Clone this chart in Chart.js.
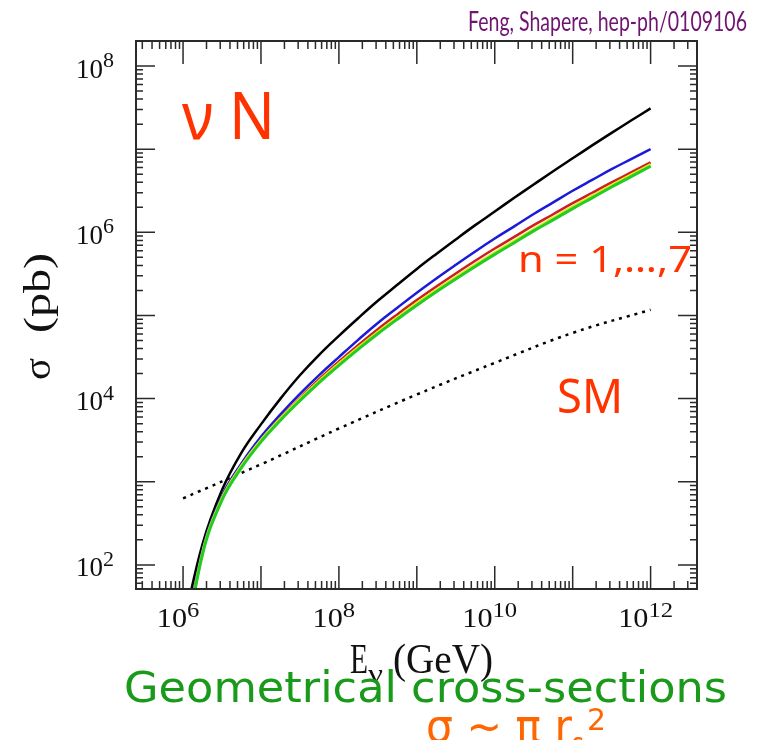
<!DOCTYPE html>
<html>
<head>
<meta charset="utf-8">
<script src="https://cdn.jsdelivr.net/npm/chart.js@4/dist/chart.umd.min.js"></script>
<style>
  html, body { margin: 0; padding: 0; background: #fff; }
  #wrap { width: 765px; height: 740px; }
</style>
</head>
<body>
<div id="wrap"><canvas id="chart" width="765" height="740"></canvas></div>
<script>
// neutrino energy (GeV), quarter-decade steps, shared by the black-hole curves
const energyGeV = [1e6, 1.78e6, 3.16e6, 5.62e6,
                   1e7, 1.78e7, 3.16e7, 5.62e7,
                   1e8, 1.78e8, 3.16e8, 5.62e8,
                   1e9, 1.78e9, 3.16e9, 5.62e9,
                   1e10, 1.78e10, 3.16e10, 5.62e10,
                   1e11, 1.78e11, 3.16e11, 5.62e11, 1e12];
// cross-sections in pb
const sigmaBlack  = [17.8, 178, 794, 2240,
                     4900, 1.0e4, 1.91e4, 3.39e4,
                     5.69e4, 9.33e4, 1.50e5, 2.34e5,
                     3.63e5, 5.50e5, 8.22e5, 1.22e6,
                     1.78e6, 2.60e6, 3.76e6, 5.43e6,
                     7.76e6, 1.11e7, 1.57e7, 2.21e7, 3.09e7];
const sigmaBlue   = [8.51, 151, 676, 1660,
                     3470, 6460, 1.14e4, 1.93e4,
                     3.16e4, 5.13e4, 8.13e4, 1.24e5,
                     1.88e5, 2.79e5, 4.07e5, 5.89e5,
                     8.41e5, 1.18e6, 1.66e6, 2.29e6,
                     3.16e6, 4.27e6, 5.75e6, 7.59e6, 1.0e7];
const sigmaRed    = [7.41, 141, 631, 1550,
                     3160, 5890, 1.02e4, 1.72e4,
                     2.79e4, 4.42e4, 6.84e4, 1.03e5,
                     1.53e5, 2.23e5, 3.20e5, 4.55e5,
                     6.38e5, 8.81e5, 1.22e6, 1.65e6,
                     2.24e6, 2.99e6, 3.98e6, 5.25e6, 6.92e6];
const sigmaYellow = [7.41, 141, 631, 1550,
                     3160, 5750, 9890, 1.64e4,
                     2.63e4, 4.12e4, 6.31e4, 9.44e4,
                     1.40e5, 2.02e5, 2.88e5, 4.07e5,
                     5.69e5, 7.85e5, 1.08e6, 1.48e6,
                     2.02e6, 2.72e6, 3.67e6, 4.90e6, 6.53e6];
const sigmaGreen  = [7.08, 135, 603, 1480,
                     3020, 5500, 9440, 1.57e4,
                     2.51e4, 3.94e4, 6.03e4, 9.02e4,
                     1.33e5, 1.93e5, 2.75e5, 3.89e5,
                     5.43e5, 7.50e5, 1.04e6, 1.41e6,
                     1.93e6, 2.60e6, 3.51e6, 4.68e6, 6.24e6];
// Standard Model curve
const smEnergyGeV = [1e6, 1e7, 1e8, 1e9, 1e10, 1e11, 1e12];
const sigmaSM     = [631, 1620, 4370, 1.12e4, 2.69e4, 6.17e4, 1.17e5];

const xTickPowers = [6, 8, 10, 12];
const yTickPowers = [2, 4, 6, 8];
const xRange = [2.49e5, 3.94e12];
const yRange = [51.3, 2.0e8];

function pts(xs, ys) {
    return xs.map((x, i) => ({ x: x, y: ys[i] }));
}

// draw text squeezed/stretched to a given width, left edge at x
function fitText(ctx, text, x, y, w) {
    const m = ctx.measureText(text).width;
    ctx.save();
    ctx.translate(x, y);
    ctx.scale(w / m, 1);
    ctx.textAlign = 'left';
    ctx.fillText(text, 0, 0);
    ctx.restore();
}

// "10" with a superscript exponent
function drawPow(ctx, exp, left, baseY, supY, sx) {
    ctx.save();
    ctx.translate(left, 0);
    ctx.scale(sx, 1);
    ctx.textAlign = 'left';
    ctx.textBaseline = 'alphabetic';
    ctx.font = '27px "Liberation Serif", serif';
    const w1 = ctx.measureText('10').width;
    ctx.fillText('10', 0, baseY);
    ctx.font = '22px "Liberation Serif", serif';
    ctx.fillText(String(exp), w1, supY);
    ctx.restore();
}
function powWidth(ctx, exp) {
    ctx.font = '27px "Liberation Serif", serif';
    const w1 = ctx.measureText('10').width;
    ctx.font = '22px "Liberation Serif", serif';
    return w1 + ctx.measureText(String(exp)).width;
}

function logTicks(scale, cb) {
    const lo = Math.floor(Math.log10(scale.min)), hi = Math.ceil(Math.log10(scale.max));
    for (let e = lo; e <= hi; e++) {
        for (let m = 1; m <= 9; m++) {
            const v = m * Math.pow(10, e);
            if (v < scale.min || v > scale.max) continue;
            cb(scale.getPixelForValue(v), m === 1);
        }
    }
}

const framePlugin = {
    id: 'frame',
    afterDraw(chart) {
        const ctx = chart.ctx;
        const a = chart.chartArea;
        const xs = chart.scales.x, ys = chart.scales.y;
        ctx.save();

        // ticks on all four sides, pointing inwards
        ctx.strokeStyle = '#2a2a2a';
        ctx.lineWidth = 1.5;
        ctx.beginPath();
        logTicks(xs, (px, major) => {
            const len = major ? 23 : 8;
            ctx.moveTo(px, a.bottom); ctx.lineTo(px, a.bottom - len);
            ctx.moveTo(px, a.top); ctx.lineTo(px, a.top + len);
        });
        logTicks(ys, (py, major) => {
            const len = major ? 19 : 7;
            ctx.moveTo(a.left, py); ctx.lineTo(a.left + len, py);
            ctx.moveTo(a.right, py); ctx.lineTo(a.right - len, py);
        });
        ctx.stroke();

        // frame
        ctx.lineWidth = 2;
        ctx.strokeRect(a.left, a.top, a.right - a.left, a.bottom - a.top);

        // tick labels
        ctx.fillStyle = '#111';
        xTickPowers.forEach(p => {
            const px = xs.getPixelForValue(Math.pow(10, p));
            const w = powWidth(ctx, p) * 1.12;
            drawPow(ctx, p, px - 5 - w / 2, 627, 617, 1.12);
        });
        yTickPowers.forEach(p => {
            const py = ys.getPixelForValue(Math.pow(10, p));
            const w = powWidth(ctx, p);
            drawPow(ctx, p, 114 - w, py + 11.5, py + 1, 1);
        });

        // axis titles
        ctx.font = '42px "Liberation Serif", serif';
        ctx.textBaseline = 'alphabetic';
        fitText(ctx, 'E', 350, 673, 18);
        ctx.font = '28px "Liberation Serif", serif';
        fitText(ctx, 'ν', 368, 683, 15);
        ctx.font = '42px "Liberation Serif", serif';
        fitText(ctx, '(GeV)', 393, 673, 100);

        ctx.save();
        ctx.translate(50, 380);
        ctx.rotate(-Math.PI / 2);
        ctx.font = '38px "Liberation Serif", serif';
        fitText(ctx, 'σ', 0, 0, 22);
        fitText(ctx, '(pb)', 47, 0, 80);
        ctx.restore();

        // annotations
        ctx.fillStyle = '#701470';
        ctx.font = '27px Lato, "Noto Sans", sans-serif';
        fitText(ctx, 'Feng, Shapere, hep-ph/0109106', 468, 31, 279);

        ctx.fillStyle = '#ff3300';
        ctx.font = '66px "Noto Sans", sans-serif';
        fitText(ctx, 'ν N', 182, 139, 93);
        ctx.font = '37px "Noto Sans", sans-serif';
        fitText(ctx, 'n = 1,…,7', 518, 272, 174);
        ctx.font = '48px "Noto Sans", sans-serif';
        fitText(ctx, 'SM', 557, 413, 66);

        ctx.fillStyle = '#1a9a1a';
        ctx.font = '42px "DejaVu Sans", sans-serif';
        fitText(ctx, 'Geometrical cross-sections', 124, 702, 603);

        ctx.fillStyle = '#ff6600';
        ctx.font = '46px "DejaVu Sans", sans-serif';
        fitText(ctx, 'σ ~ π r', 426, 742, 146);
        ctx.font = '30px "DejaVu Sans", sans-serif';
        fitText(ctx, 's', 572, 754, 12);
        fitText(ctx, '2', 587, 730, 19);

        ctx.restore();
    }
};

function curve(data, color, width, extra) {
    return Object.assign({
        data: data,
        borderColor: color,
        borderWidth: width,
        pointRadius: 0,
        fill: false,
        clip: 0,
        tension: 0.4
    }, extra || {});
}

new Chart(document.getElementById('chart'), {
    type: 'line',
    data: {
        datasets: [
            curve(pts(energyGeV, sigmaGreen), '#22cc22', 3),
            curve(pts(energyGeV, sigmaYellow), '#e2e620', 3),
            curve(pts(energyGeV, sigmaRed), '#cc2020', 2.5),
            curve(pts(energyGeV, sigmaBlue), '#1a1ad8', 2.5),
            curve(pts(energyGeV, sigmaBlack), '#000000', 2.5),
            curve(pts(smEnergyGeV, sigmaSM), '#000000', 2.5, { borderDash: [3, 5] })
        ]
    },
    options: {
        responsive: false,
        animation: false,
        layout: { padding: { left: 136, right: 68, top: 41, bottom: 151 } },
        plugins: { legend: { display: false }, tooltip: { enabled: false } },
        scales: {
            x: { type: 'logarithmic', min: xRange[0], max: xRange[1], display: false },
            y: { type: 'logarithmic', min: yRange[0], max: yRange[1], display: false }
        }
    },
    plugins: [framePlugin]
});
</script>
</body>
</html>
